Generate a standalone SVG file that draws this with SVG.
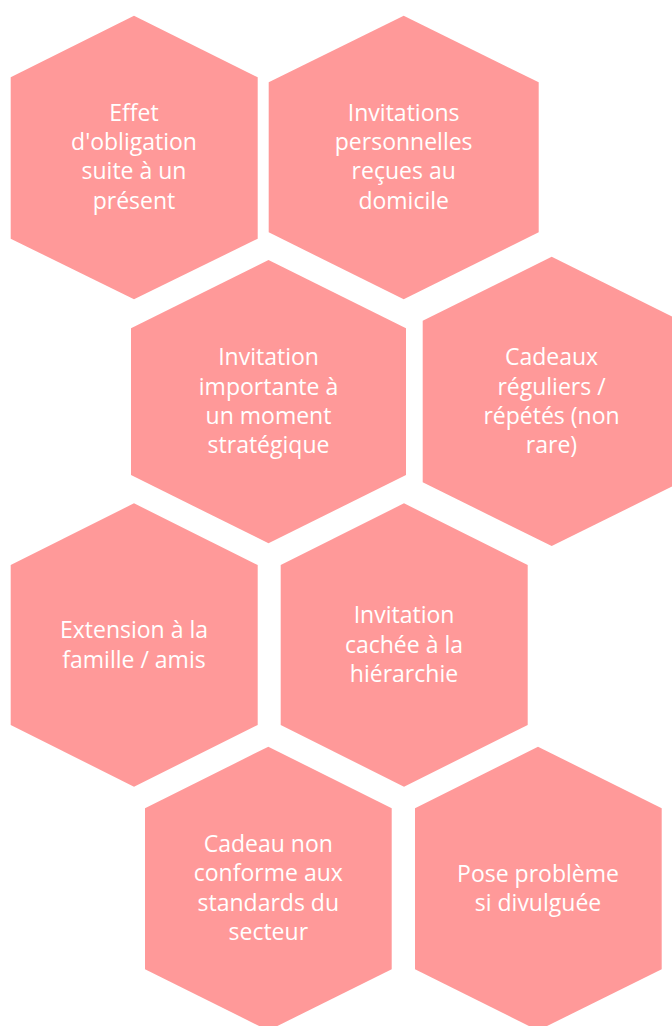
<svg xmlns="http://www.w3.org/2000/svg" width="672" height="1026" viewBox="0 0 672 1026">
<style>
.hex{fill:#FF9999;stroke:none}
.lbl{fill:#FFFFFF;font-family:"Open Sans","Liberation Sans",sans-serif;font-size:23px;text-anchor:middle}
</style>
<rect width="672" height="1026" fill="#FFFFFF"/>
<g id="connectors"></g>
<g id="n1">
<polygon class="hex" points="134,15.7 257.7,77.3 257.7,238.7 134,299.3 10.7,238.7 10.7,77.3"/>
<text class="lbl" x="134"><tspan x="134" y="120.7">Effet</tspan><tspan x="134" y="150">d'obligation</tspan><tspan x="134" y="179.3">suite à un</tspan><tspan x="134" y="208.6">présent</tspan></text>
</g>
<g id="n2">
<polygon class="hex" points="403.7,15.7 538.7,82.3 538.7,232.3 403.7,299.3 268.7,232.3 268.7,82.3"/>
<text class="lbl" x="403.7"><tspan x="403.7" y="120.7">Invitations</tspan><tspan x="403.7" y="150">personnelles</tspan><tspan x="403.7" y="179.3">reçues au</tspan><tspan x="403.7" y="208.6">domicile</tspan></text>
</g>
<g id="n3">
<polygon class="hex" points="268.5,260 406,328.3 406,475 268.5,543.3 131,475 131,328.3"/>
<text class="lbl" x="268.5"><tspan x="268.5" y="365">Invitation</tspan><tspan x="268.5" y="394.5">importante à</tspan><tspan x="268.5" y="423.8">un moment</tspan><tspan x="268.5" y="453">stratégique</tspan></text>
</g>
<g id="n4">
<polygon class="hex" points="551.7,256.7 680.7,320.7 680.7,482.3 551.7,546 422.7,482.3 422.7,320.7"/>
<text class="lbl" x="551.5"><tspan x="551.5" y="365">Cadeaux</tspan><tspan x="551.5" y="394.5">réguliers /</tspan><tspan x="551.5" y="423.8">répétés (non</tspan><tspan x="551.5" y="453">rare)</tspan></text>
</g>
<g id="n5">
<polygon class="hex" points="134,503.3 257.7,565 257.7,725 134,786.7 10.7,725 10.7,565"/>
<text class="lbl" x="134"><tspan x="134" y="638.3">Extension à la</tspan><tspan x="134" y="667.6">famille / amis</tspan></text>
</g>
<g id="n6">
<polygon class="hex" points="404,503.3 527.7,565 527.7,725 404,786.7 280.7,725 280.7,565"/>
<text class="lbl" x="404"><tspan x="404" y="623.3">Invitation</tspan><tspan x="404" y="652.6">cachée à la</tspan><tspan x="404" y="681.9">hiérarchie</tspan></text>
</g>
<g id="n7">
<polygon class="hex" points="268.3,746.7 391.7,808.3 391.7,969.3 268.3,1030.5 145,969.3 145,808.3"/>
<text class="lbl" x="268.3"><tspan x="268.3" y="851.7">Cadeau non</tspan><tspan x="268.3" y="881">conforme aux</tspan><tspan x="268.3" y="910.5">standards du</tspan><tspan x="268.3" y="940">secteur</tspan></text>
</g>
<g id="n8">
<polygon class="hex" points="538,746.7 661.7,808.3 661.7,969.3 538,1030.5 415,969.3 415,808.3"/>
<text class="lbl" x="538"><tspan x="538" y="881.5">Pose problème</tspan><tspan x="538" y="910.8">si divulguée</tspan></text>
</g>
</svg>
